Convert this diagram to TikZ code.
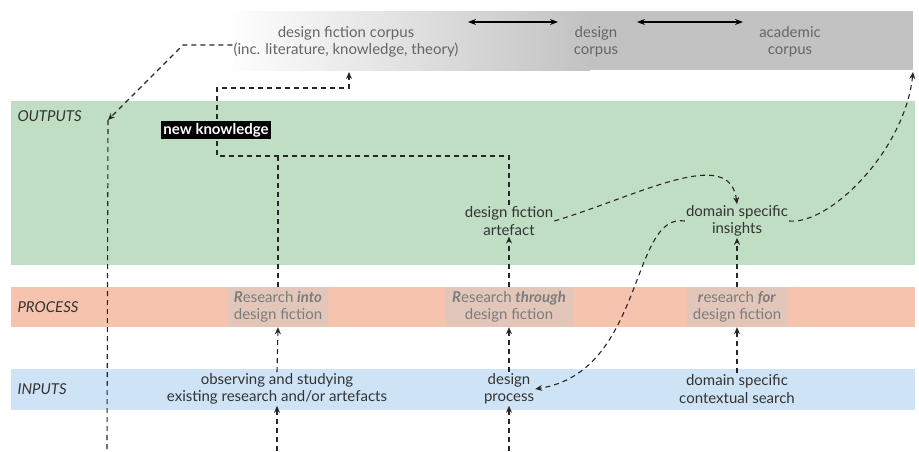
\documentclass[tikz,border=0pt]{standalone}
\usepackage{fontspec}
\setmainfont{Lato}
\usetikzlibrary{arrows.meta}
\definecolor{outgreen}{HTML}{BFDEC4}
\definecolor{procred}{HTML}{F6C4AE}
\definecolor{inblue}{HTML}{CFE3F6}
\definecolor{procbox}{HTML}{E2C6B9}
\definecolor{corpusgray}{HTML}{C2C2C2}
\definecolor{txtdark}{HTML}{333333}
\definecolor{txtgray}{HTML}{666666}
\definecolor{boxtxt}{HTML}{7C7C7C}
\tikzset{
  txt/.style={align=center, text=txtdark, font=\fontsize{15}{17.5}\selectfont, inner sep=1pt},
  corpustxt/.style={txt, text=txtgray},
  rowlabel/.style={anchor=west, text=txtdark, font=\fontsize{15}{17.5}\selectfont\itshape},
  rbox/.style={txt, text=boxtxt, fill=procbox, minimum height=40pt, inner sep=0pt},
  flow/.style={dash pattern=on 5pt off 4pt, line width=1.1pt, draw=black!85, -{Stealth[length=7pt,width=6pt]}},
  plainflow/.style={flow, -},
  twoway/.style={line width=1.1pt, {Stealth[length=8pt,width=6pt]}-{Stealth[length=8pt,width=6pt]}}
}
\newcommand{\bi}[1]{\textbf{\textit{#1}}}
\begin{document}
\begin{tikzpicture}[x=1pt,y=-1pt]
        \useasboundingbox (0,0) rectangle (919,451);
        % Bands
        \shade[left color=white, right color=corpusgray] (225,11) rectangle (590,70);
        \fill[corpusgray] (589,11) rectangle (913,70);
        \fill[outgreen] (11,101) rectangle (915,265);
        \fill[procred] (11,287) rectangle (915,327);
        \fill[inblue] (11,369) rectangle (915,410);
        % Row labels
        \node[rowlabel] (lout) at (14,116) {OUTPUTS};
        \node[rowlabel] (lproc) at (14,307) {PROCESS};
        \node[rowlabel] (lin) at (14,389) {INPUTS};
        % Corpus
        \node[corpustxt] (corpus) at (346,42) {design fiction corpus\\(inc. literature, knowledge, theory)};
        \node[corpustxt] (dcorpus) at (596,42) {design\\corpus};
        \node[corpustxt] (acorpus) at (790,42) {academic\\corpus};
        \coordinate (l1) at (468,22);
        \coordinate (r1) at (558,22);
        \coordinate (l2) at (637,22);
        \coordinate (r2) at (743,22);
        \draw[twoway] (l1) -- (r1);
        \draw[twoway] (l2) -- (r2);
        % Outputs
        \node[txt] (artefact) at (509,221) {design fiction\\artefact};
        \node[txt] (insights) at (737,221) {domain specific\\insights};
        % Process
        \node[rbox, minimum width=100pt] (rinto) at (278,307) {\bi{R}esearch \bi{into}\\design fiction};
        \node[rbox, minimum width=128pt] (rthrough) at (509,307) {\bi{R}esearch \bi{through}\\design fiction};
        \node[rbox, minimum width=101pt] (rfor) at (737,307) {\bi{r}esearch \bi{for}\\design fiction};
        % Inputs
        \node[txt] (observe) at (277,389) {observing and studying\\existing research and/or artefacts};
        \node[txt] (dprocess) at (509,389) {design\\process};
        \node[txt] (dsearch) at (737,389) {domain specific\\contextual search};
        % Loose ends
        \coordinate (b1) at (277,451);
        \coordinate (b2) at (509,451);
        \coordinate (b3) at (107,451);
        \coordinate (kcorner) at (108,120);
        \coordinate (kleft) at (217,156);
        \coordinate (kup) at (349,88);
        \coordinate (ktop) at (349,72);
        \coordinate (acorner) at (913,72);
        % Upward flows
        \draw[flow] (b1) -- (observe.south);
        \draw[flow] (observe.north) -- (rinto.south);
        \draw[flow] (b2) -- (dprocess.south);
        \draw[flow] (dprocess.north) -- (rthrough.south);
        \draw[flow] (rthrough.north) -- (artefact.south);
        \draw[flow] (dsearch.north) -- (rfor.south);
        \draw[flow] (rfor.north) -- (insights.south);
        % New knowledge back into corpus
        \draw[plainflow] (rinto.north) -- (rinto.north |- kleft);
        \draw[flow] (artefact.north) |- (kleft) |- (kup) -- (ktop);
        \node[fill=black, text=white, font=\fontsize{15}{17}\selectfont\bfseries, inner sep=2pt] (newk) at (216,130) {new knowledge};
        \draw[flow] ([yshift=-3pt]corpus.west) -- (183,45) -- (kcorner);
        \draw[plainflow] (kcorner) -- (b3);
        % Curved flows
        \draw[flow] (artefact.east) .. controls (640,195) and (730,145) .. (insights.north);
        \draw[flow] (insights.west) .. controls (630,212) and (645,372) .. (dprocess.east);
        \draw[flow] (insights.east) .. controls (830,225) and (905,150) .. (acorner);
    \end{tikzpicture}
\end{document}
